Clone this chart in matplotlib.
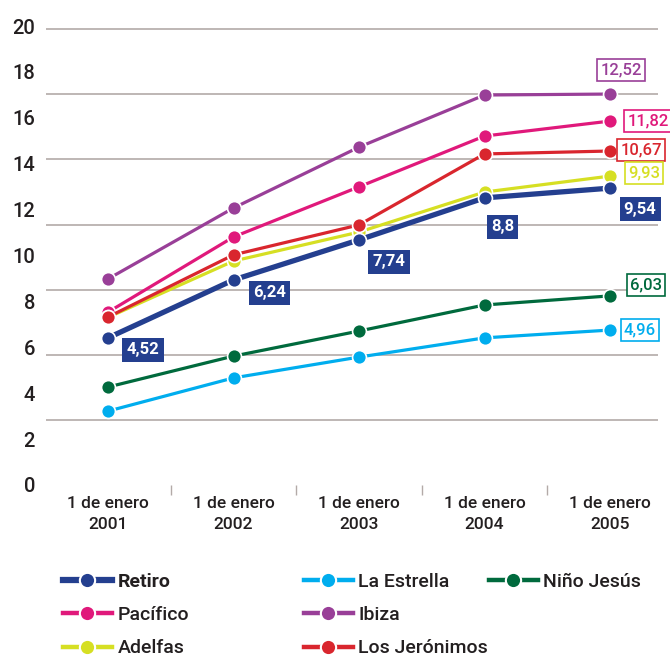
import matplotlib
matplotlib.use("Agg")
import matplotlib.pyplot as plt
from matplotlib.lines import Line2D

# fonts: no condensed face here, Roboto medium is close enough
plt.rcParams['font.family'] = ['Roboto', 'Liberation Sans', 'DejaVu Sans']
plt.rcParams['font.weight'] = 'medium'

years = ["2001", "2002", "2003", "2004", "2005"]
x_labels = ["1 de enero\n" + y for y in years]

# values as drawn in the picture
retiro = [4.52, 6.30, 7.53, 8.82, 9.12]
estrella = [2.27, 3.29, 3.93, 4.52, 4.76]
nino = [3.01, 3.96, 4.73, 5.53, 5.81]
pacifico = [5.31, 7.62, 9.16, 10.72, 11.18]
ibiza = [6.33, 8.51, 10.38, 11.98, 12.01]
adelfas = [5.15, 6.88, 7.77, 9.00, 9.49]
jeronimos = [5.16, 7.07, 7.99, 10.17, 10.26]

# printed value labels
retiro_labels = ["4,52", "6,24", "7,74", "8,8", "9,54"]
last_labels = {"Ibiza": "12,52", "Pacífico": "11,82", "Los Jerónimos": "10,67",
               "Adelfas": "9,93", "Niño Jesús": "6,03", "La Estrella": "4,96"}

y_tick_labels = [0, 2, 4, 6, 8, 10, 12, 14, 16, 18, 20]
grid_levels = [0, 2, 4, 6, 8, 10, 12, 14]

colors = {
    "Retiro": "#243f8f",
    "La Estrella": "#00adee",
    "Niño Jesús": "#006a3d",
    "Pacífico": "#e0197b",
    "Ibiza": "#993f98",
    "Adelfas": "#d6df23",
    "Los Jerónimos": "#d9262e",
}
series = {
    "Retiro": retiro, "La Estrella": estrella, "Niño Jesús": nino,
    "Pacífico": pacifico, "Ibiza": ibiza, "Adelfas": adelfas,
    "Los Jerónimos": jeronimos,
}
draw_order = ["Ibiza", "Pacífico", "Adelfas", "Los Jerónimos", "Niño Jesús", "La Estrella", "Retiro"]

txt = "#231f20"
gridc = "#b3aaa8"

fig = plt.figure(figsize=(6.70, 6.58), dpi=100)
ax = fig.add_axes([46 / 670, 173 / 658, 612 / 670, 465.5 / 658])

xs = list(range(len(years)))
for name in draw_order:
    lw = 3.8 if name == "Retiro" else 2.3
    ax.plot(xs, series[name], color=colors[name], lw=lw, marker='o', ms=10,
            mec='white', mew=1.2, zorder=3 + draw_order.index(name), solid_capstyle='butt')

# labels for Retiro (filled boxes)
retiro_off = [(35, -12), (36, -13), (30, -22), (18, -29), (30, -21)]
for i, lab in enumerate(retiro_labels):
    ax.annotate(lab, (xs[i], retiro[i]), xytext=retiro_off[i], textcoords='offset pixels',
                ha='center', va='center', color='white', fontsize=12, fontweight='bold',
                bbox=dict(boxstyle='square,pad=0.25', fc=colors["Retiro"], ec='none'),
                zorder=20)

# outlined labels at the last point
last_off = {"Ibiza": (11, 24), "Pacífico": (38, 0), "Los Jerónimos": (31, 1),
            "Adelfas": (34, 3), "Niño Jesús": (36, 11), "La Estrella": (30, 0)}
for name, lab in last_labels.items():
    ax.annotate(lab, (xs[-1], series[name][-1]), xytext=last_off[name], textcoords='offset pixels',
                ha='center', va='center', color=colors[name], fontsize=12,
                bbox=dict(boxstyle='square,pad=0.2', fc='white', ec=colors[name], lw=1.2),
                zorder=20)

ax.set_xlim(-0.494, 4.382)
ax.set_ylim(0, 14.3)

ax.set_xticks(xs)
ax.set_xticklabels(x_labels, fontsize=12.5, color=txt, linespacing=1.5)
ax.set_xticks([0.5, 1.5, 2.5, 3.5], minor=True)
ax.tick_params(axis='x', which='major', length=0, pad=8)
ax.tick_params(axis='x', which='minor', length=7, width=1, color=gridc)

ax.set_yticks([v * 0.705 for v in y_tick_labels])
ax.set_yticklabels([str(v) for v in y_tick_labels], fontsize=14.5, color=txt)
ax.set_yticks(grid_levels, minor=True)
ax.tick_params(axis='y', which='both', length=0, pad=8)
ax.grid(False)
ax.yaxis.grid(True, which='minor', color=gridc, lw=1.2)
ax.set_axisbelow(True)
for s in ax.spines.values():
    s.set_visible(False)

# legend, three columns
columns = [["Retiro", "Pacífico", "Adelfas"],
           ["La Estrella", "Ibiza", "Los Jerónimos"],
           ["Niño Jesús"]]
col_x = [63 / 670, 304 / 670, 489 / 670]
for cx, col in zip(col_x, columns):
    handles = [Line2D([], [], color=colors[n], lw=4.5 if n == "Retiro" else 3.2, marker='o', ms=11,
                      mec='white', mew=1.5) for n in col]
    leg = fig.legend(handles, col, loc='upper left', bbox_to_anchor=(cx, 1 - 573 / 658),
                     frameon=False, fontsize=14, handlelength=2.5, handletextpad=0.3,
                     labelspacing=0.78, borderpad=0, borderaxespad=0)
    for t in leg.get_texts():
        t.set_color(txt)
        if t.get_text() == "Retiro":
            t.set_fontweight('bold')

fig.savefig("out.png", dpi=100)
